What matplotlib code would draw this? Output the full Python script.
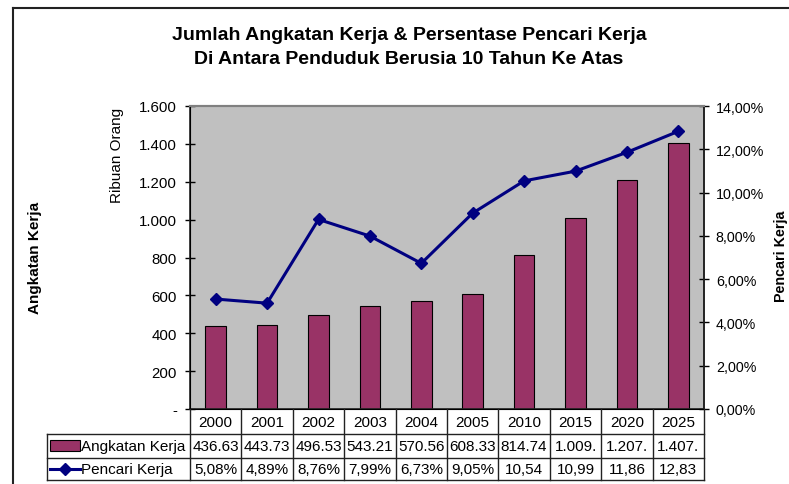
import matplotlib
matplotlib.use("Agg")
import matplotlib.pyplot as plt
from matplotlib.transforms import Affine2D, blended_transform_factory
from matplotlib.lines import Line2D
from matplotlib.patches import Rectangle

plt.rcParams['font.family'] = ['Liberation Sans', 'DejaVu Sans']

years = ['2000', '2001', '2002', '2003', '2004', '2005', '2010', '2015', '2020', '2025']
angkatan = [436.63, 443.73, 496.53, 543.21, 570.56, 608.33, 814.74, 1009.0, 1207.0, 1407.0]
angkatan_text = ['436.63', '443.73', '496.53', '543.21', '570.56', '608.33', '814.74', '1.009.', '1.207.', '1.407.']
pencari = [5.08, 4.89, 8.76, 7.99, 6.73, 9.05, 10.54, 10.99, 11.86, 12.83]
pencari_text = ['5,08%', '4,89%', '8,76%', '7,99%', '6,73%', '9,05%', '10,54', '10,99', '11,86', '12,83']
left_ticks = [0, 200, 400, 600, 800, 1000, 1200, 1400, 1600]
left_tick_labels = ['-', '200', '400', '600', '800', '1.000', '1.200', '1.400', '1.600']
right_ticks = [0, 2, 4, 6, 8, 10, 12, 14]
right_tick_labels = ['0,00%', '2,00%', '4,00%', '6,00%', '8,00%', '10,00%', '12,00%', '14,00%']

W, H = 789, 485
fig = plt.figure(figsize=(W / 100, H / 100), dpi=100)
fig.patch.set_facecolor('white')
pix = Affine2D().scale(1 / W, -1 / H).translate(0, 1) + fig.transFigure

TFS = 11  # table font size

# axes placement (pixels)
L, R, T, B = 190, 704, 107, 410
ax = fig.add_axes([L / W, 1 - B / H, (R - L) / W, (B - T) / H])
ax.set_facecolor('#C0C0C0')
x = list(range(len(years)))
ax.bar(x, angkatan, width=0.4, color='#993366', edgecolor='black', linewidth=0.8, zorder=2)
ax.set_xlim(-0.5, len(years) - 0.5)
ax.set_ylim(0, 1600)
ax.set_yticks(left_ticks)
ax.set_yticklabels(left_tick_labels, fontsize=10.8)
ax.set_xticks([])
ax.tick_params(axis='y', direction='inout', length=7, width=1, pad=6)
ax.spines['top'].set_color('#808080')
ax.spines['top'].set_linewidth(1.5)
for s in ['left', 'bottom', 'right']:
    ax.spines[s].set_color('#222222')
    ax.spines[s].set_linewidth(1.2)

ax2 = ax.twinx()
ax2.plot(x, pencari, color='#000080', linewidth=2.2, marker='D', markersize=6.5, zorder=3)
ax2.set_ylim(0, 14)
ax2.set_yticks(right_ticks)
ax2.set_yticklabels(right_tick_labels, fontsize=10.3)
ax2.tick_params(axis='y', direction='inout', length=7, width=1, pad=5)
ax2.spines['right'].set_color('#222222')
ax2.spines['right'].set_linewidth(1.2)
ax2.spines['top'].set_color('#808080')
ax2.spines['top'].set_linewidth(1.5)

# titles and axis labels
fig.text(409 / W, 1 - 36 / H, 'Jumlah Angkatan Kerja & Persentase Pencari Kerja',
         ha='center', va='center', fontsize=14, fontweight='bold')
fig.text(409 / W, 1 - 60 / H, 'Di Antara Penduduk Berusia 10 Tahun Ke Atas',
         ha='center', va='center', fontsize=14, fontweight='bold')
fig.text(35 / W, 1 - 258 / H, 'Angkatan Kerja', rotation=90, ha='center', va='center',
         fontsize=11, fontweight='bold')
fig.text(117 / W, 1 - 155 / H, 'Ribuan Orang', rotation=90, ha='center', va='center',
         fontsize=11)
fig.text(781 / W, 1 - 256 / H, 'Pencari Kerja', rotation=90, ha='center', va='center',
         fontsize=10.3, fontweight='bold')

# outer frame
fig.add_artist(Line2D([13, 13], [9, H + 5], transform=pix, color='#222222', lw=1.5))
fig.add_artist(Line2D([13, W + 5], [9, 9], transform=pix, color='#222222', lw=1.5))

# data table
bt = blended_transform_factory(ax.transData, pix)
rows_y = [410, 435, 459, 481]
tl = 47
lc = '#222222'
for i in range(len(years) + 1):
    fig.add_artist(Line2D([i - 0.5, i - 0.5], [rows_y[0], rows_y[3]], transform=bt, color=lc, lw=1))
for yy in rows_y[1:]:
    fig.add_artist(Line2D([tl, R], [yy, yy], transform=pix, color=lc, lw=1))
fig.add_artist(Line2D([tl, tl], [rows_y[1], rows_y[3]], transform=pix, color=lc, lw=1))
for i in range(len(years)):
    fig.text(0, 0, years[i], transform=bt, fontsize=TFS, ha='center', va='center').set_position((i, 423))
    fig.text(0, 0, angkatan_text[i], transform=bt, fontsize=TFS, ha='center', va='center').set_position((i, 447))
    fig.text(0, 0, pencari_text[i], transform=bt, fontsize=TFS, ha='center', va='center').set_position((i, 470.5))

fig.add_artist(Rectangle((50, 441), 30, 11, transform=pix, facecolor='#993366', edgecolor='black', lw=0.8))
fig.text(81 / W, 1 - 447 / H, 'Angkatan Kerja', ha='left', va='center', fontsize=TFS)
fig.add_artist(Line2D([50, 80], [470, 470], transform=pix, color='#000080', lw=2.2))
fig.add_artist(Line2D([65], [470], transform=pix, color='#000080', marker='D', markersize=6.5))
fig.text(81 / W, 1 - 470.5 / H, 'Pencari Kerja', ha='left', va='center', fontsize=TFS)

fig.savefig('out.png', dpi=100)
